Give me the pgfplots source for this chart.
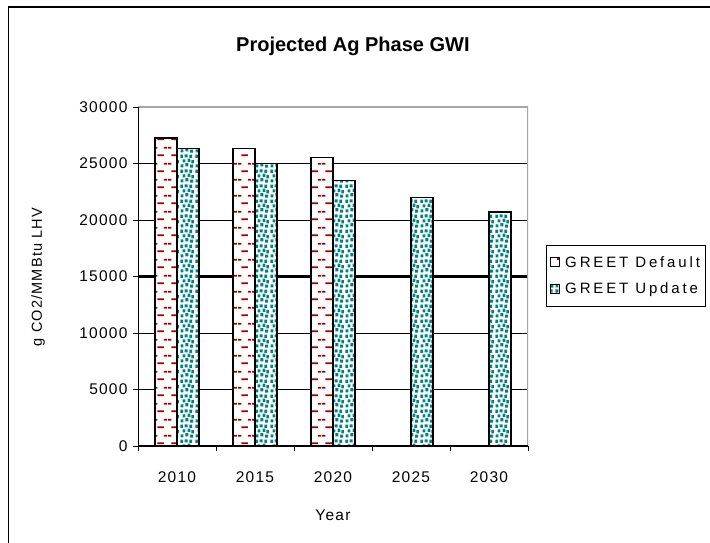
\documentclass[border=0pt]{standalone}
\usepackage{fontspec}
\setmainfont{Liberation Sans}
\newfontfamily\chartfont[LetterSpace=8]{Liberation Sans}
\newfontfamily\legfont[LetterSpace=19]{Liberation Sans}
\usepackage{pgfplots}
\pgfplotsset{compat=1.18}
\usetikzlibrary{patterns}
\definecolor{dred}{RGB}{165,0,0}
\definecolor{dteal}{RGB}{0,128,128}
\pgfdeclarepatternformonly{dashbrick}{\pgfpoint{0pt}{0pt}}{\pgfpoint{14pt}{16pt}}{\pgfpoint{14pt}{16pt}}{%
  \pgfsetlinewidth{1.8pt}%
  \pgfpathmoveto{\pgfpoint{3.5pt}{4pt}}\pgfpathlineto{\pgfpoint{10.5pt}{4pt}}%
  \pgfpathmoveto{\pgfpoint{0pt}{12pt}}\pgfpathlineto{\pgfpoint{3.5pt}{12pt}}%
  \pgfpathmoveto{\pgfpoint{10.5pt}{12pt}}\pgfpathlineto{\pgfpoint{14pt}{12pt}}%
  \pgfusepath{stroke}}
\pgfdeclarepatternformonly{dotsq}{\pgfpoint{0pt}{0pt}}{\pgfpoint{15pt}{15pt}}{\pgfpoint{15pt}{15pt}}{%
  \pgfpathrectangle{\pgfpoint{0.6pt}{0.6pt}}{\pgfpoint{3pt}{3.3pt}}%
  \pgfpathrectangle{\pgfpoint{5.8pt}{1.8pt}}{\pgfpoint{3pt}{3.3pt}}%
  \pgfpathrectangle{\pgfpoint{10.9pt}{0.3pt}}{\pgfpoint{3pt}{3.3pt}}%
  \pgfpathrectangle{\pgfpoint{2.8pt}{5.9pt}}{\pgfpoint{3pt}{3.3pt}}%
  \pgfpathrectangle{\pgfpoint{8.1pt}{6.6pt}}{\pgfpoint{3pt}{3.3pt}}%
  \pgfpathrectangle{\pgfpoint{12.0pt}{5.0pt}}{\pgfpoint{2.8pt}{3.3pt}}%
  \pgfpathrectangle{\pgfpoint{0.4pt}{10.8pt}}{\pgfpoint{3pt}{3.3pt}}%
  \pgfpathrectangle{\pgfpoint{5.0pt}{11.3pt}}{\pgfpoint{3pt}{3.3pt}}%
  \pgfpathrectangle{\pgfpoint{10.0pt}{10.8pt}}{\pgfpoint{3pt}{3.3pt}}%
  \pgfusepath{fill}}
\begin{document}
\begin{tikzpicture}
\useasboundingbox (0pt,0pt) rectangle (710pt,543pt);
\fill[white] (0pt,0pt) rectangle (710pt,543pt);
\draw[line width=1.5pt] (8.5pt,-10pt) -- (8.5pt,536pt) -- (720pt,536pt);
\begin{axis}[
  at={(138pt,97pt)}, anchor=south west,
  scale only axis, width=390pt, height=339pt,
  ybar=0pt, bar width=22pt,
  xmin=-0.5, xmax=4.5,
  ymin=0, ymax=30000,
  ytick={0,5000,...,30000},
  xtick={-0.5,0.5,...,4.5},
  xticklabels={},
  extra x ticks={0,1,2,3,4},
  extra x tick labels={2010,2015,2020,2025,2030},
  extra x tick style={major tick length=0pt, xticklabel style={yshift=-22pt}},
  extra y ticks={15000},
  extra y tick labels={},
  extra y tick style={grid style={black, line width=2.4pt}},
  tick align=outside, major tick length=5pt,
  xtick pos=bottom, ytick pos=left,
  tick style={black, line width=0.8pt},
  ymajorgrids=true,
  grid style={black, line width=0.9pt},
  axis line style={draw=none},
  scaled y ticks=false,
  /pgf/number format/1000 sep={},
  /pgf/number format/assume math mode=true,
  ticklabel style={font=\chartfont\fontsize{15.5pt}{17pt}\selectfont},
  yticklabel style={xshift=-2pt},
  title={\fontsize{20pt}{24pt}\selectfont\bfseries Projected Ag Phase GWI},
  title style={at={(axis description cs:0.551,1.16)}, anchor=center},
  xlabel={Year},
  xlabel style={at={(axis description cs:0.5,-0.2035)}, anchor=center, font=\chartfont\fontsize{15.5pt}{17pt}\selectfont},
  ylabel={g CO2/MMBtu LHV},
  ylabel style={at={(axis description cs:-0.256,0.4985)}, anchor=center, rotate=0, font=\chartfont\fontsize{14.5pt}{16pt}\selectfont},
  legend style={at={(axis description cs:1.046,0.593)}, anchor=north west,
    draw=black, line width=1pt, font=\legfont\fontsize{15pt}{17pt}\selectfont,
    row sep=10pt, inner ysep=9pt, inner xsep=4pt},
  legend cell align=left,
  legend image code/.code={\draw[#1, line width=0.8pt] (0pt,-4pt) rectangle (9pt,5pt);},
]
\addplot[draw=black, line width=1.2pt, fill=white, postaction={pattern=dashbrick, pattern color=dred}]
  coordinates {(0,27250) (1,26350) (2,25500)};
\addlegendentry{\hspace{3pt}GREET Default\hspace{40pt}}
\addplot[draw=black, line width=1.2pt, fill=white, postaction={pattern=dotsq, pattern color=dteal}]
  coordinates {(0,26350) (1,25000) (2,23500) (3,22000) (4,20700)};
\addlegendentry{\hspace{3pt}GREET Update\hspace{40pt}}
\draw[gray!70, line width=1.5pt] (rel axis cs:0,1) -- (rel axis cs:1,1) -- (rel axis cs:1,0);
\draw[black, line width=1pt] (rel axis cs:0,1) -- (rel axis cs:0,0) -- (rel axis cs:1,0);
\end{axis}
\end{tikzpicture}
\end{document}
